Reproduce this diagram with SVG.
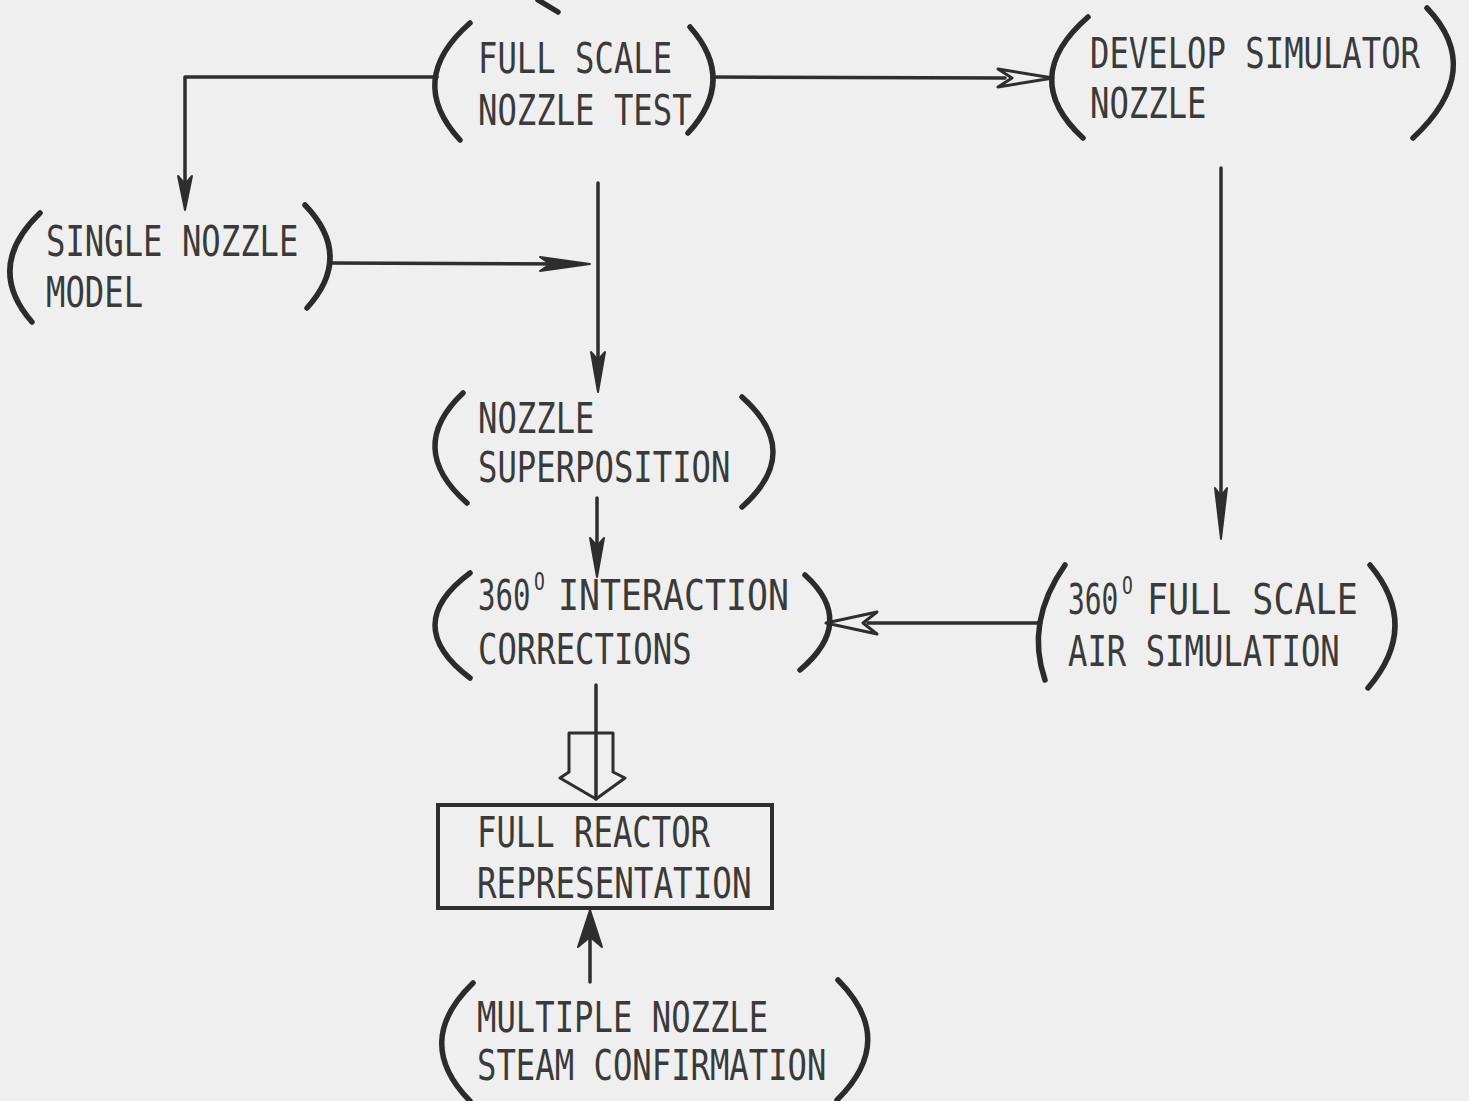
<svg xmlns="http://www.w3.org/2000/svg" width="1469" height="1101" viewBox="0 0 1469 1101">
<style>
.bg{fill:#efefef}
.t{font-family:"DejaVu Sans Mono","Liberation Mono",monospace;font-size:43px;fill:#3a3a3a}
.sup{font-family:"DejaVu Sans Mono","Liberation Mono",monospace;font-size:24px;fill:#3a3a3a}
.p{fill:none;stroke:#2b2b2b;stroke-width:5.5;stroke-linecap:round}
.ln{fill:none;stroke:#2e2e2e;stroke-width:3.5;stroke-linecap:round;stroke-linejoin:round}
.fh{fill:#2e2e2e;stroke:#2e2e2e;stroke-width:2;stroke-linejoin:round}
.oh{fill:#efefef;stroke:#2e2e2e;stroke-width:3;stroke-linejoin:round}
.box{fill:none;stroke:#2e2e2e;stroke-width:4}
</style>
<rect class="bg" x="0" y="0" width="1469" height="1101"/>

<g id="connectors">
  <line class="p" x1="538" y1="0" x2="558" y2="12"/>
  <polyline class="ln" points="437,77 185,77 185,200"/>
  <polygon class="fh" points="185,210 178,176 185,184 192,176"/>
  <line class="ln" x1="713" y1="77" x2="1005" y2="78"/>
  <polygon class="oh" points="1053,78 998,69 1012,78 998,87"/>
  <line class="ln" x1="598" y1="183" x2="598" y2="382"/>
  <polygon class="fh" points="598,392 591,352 598,360 605,352"/>
  <line class="ln" x1="330" y1="263" x2="580" y2="264"/>
  <polygon class="fh" points="590,264 540,257 550,264 540,271"/>
  <line class="ln" x1="597" y1="498" x2="597" y2="565"/>
  <polygon class="fh" points="597,577 590,538 597,546 604,538"/>
  <line class="ln" x1="1221" y1="168" x2="1221" y2="528"/>
  <polygon class="fh" points="1221,539 1215,488 1221,496 1227,488"/>
  <line class="ln" x1="1041" y1="623" x2="868" y2="623"/>
  <polygon class="oh" points="826,623 877,612 863,623 877,634"/>
  <polygon class="oh" points="569,733 613,733 613,772 625,778 596,799 560,778 569,772"/>
  <line class="ln" x1="596" y1="685" x2="596" y2="799"/>
  <line class="ln" x1="590" y1="982" x2="590" y2="925"/>
  <polygon class="fh" points="590,910 602,947 590,937 578,947"/>
</g>

<g id="full-scale-nozzle-test">
  <path class="p" d="M470,23 Q405,80 460,140"/>
  <path class="p" d="M690,27 Q737,80 688,133"/>
  <text class="t" transform="matrix(0.75 0 0 1 478 73)">FULL SCALE</text>
  <text class="t" transform="matrix(0.75 0 0 1 478 125)">NOZZLE TEST</text>
</g>

<g id="develop-simulator-nozzle">
  <path class="p" d="M1088,17 Q1018,78 1083,138"/>
  <path class="p" d="M1427,8 Q1486,70 1413,138"/>
  <text class="t" transform="matrix(0.75 0 0 1 1090 68)">DEVELOP SIMULATOR</text>
  <text class="t" transform="matrix(0.75 0 0 1 1090 118)">NOZZLE</text>
</g>

<g id="single-nozzle-model">
  <path class="p" d="M40,213 Q-16,267 32,322"/>
  <path class="p" d="M305,205 Q354,256 307,308"/>
  <text class="t" transform="matrix(0.75 0 0 1 46 256)">SINGLE NOZZLE</text>
  <text class="t" transform="matrix(0.75 0 0 1 46 307)">MODEL</text>
</g>

<g id="nozzle-superposition">
  <path class="p" d="M463,393 Q405,448 467,503"/>
  <path class="p" d="M742,397 Q804,452 742,507"/>
  <text class="t" transform="matrix(0.75 0 0 1 478 433)">NOZZLE</text>
  <text class="t" transform="matrix(0.75 0 0 1 478 482)">SUPERPOSITION</text>
</g>

<g id="interaction-corrections">
  <path class="p" d="M470,573 Q400,625 470,678"/>
  <path class="p" d="M805,575 Q857,622 800,670"/>
  <text class="t" transform="matrix(0.75 0 0 1 478 610)" textLength="70" lengthAdjust="spacingAndGlyphs">360</text>
  <text class="sup" transform="matrix(0.75 0 0 1 534 590)">O</text>
  <text class="t" transform="matrix(0.75 0 0 1 558 610)" textLength="308" lengthAdjust="spacingAndGlyphs">INTERACTION</text>
  <text class="t" transform="matrix(0.75 0 0 1 478 664)">CORRECTIONS</text>
</g>

<g id="full-scale-air-simulation">
  <path class="p" d="M1065,565 Q1025,622 1045,680"/>
  <path class="p" d="M1370,565 Q1421,626 1368,688"/>
  <text class="t" transform="matrix(0.75 0 0 1 1068 614)" textLength="67" lengthAdjust="spacingAndGlyphs">360</text>
  <text class="sup" transform="matrix(0.75 0 0 1 1122 594)">O</text>
  <text class="t" transform="matrix(0.75 0 0 1 1147 614)" textLength="281" lengthAdjust="spacingAndGlyphs">FULL SCALE</text>
  <text class="t" transform="matrix(0.75 0 0 1 1068 666)">AIR SIMULATION</text>
</g>

<g id="full-reactor-representation">
  <rect class="box" x="438" y="805" width="334" height="103"/>
  <text class="t" transform="matrix(0.75 0 0 1 477 847)">FULL REACTOR</text>
  <text class="t" transform="matrix(0.75 0 0 1 477 898)" textLength="366" lengthAdjust="spacingAndGlyphs">REPRESENTATION</text>
</g>

<g id="multiple-nozzle-steam-confirmation">
  <path class="p" d="M473,983 Q412,1042 470,1101"/>
  <path class="p" d="M838,980 Q898,1040 837,1100"/>
  <text class="t" transform="matrix(0.75 0 0 1 477 1032)">MULTIPLE NOZZLE</text>
  <text class="t" transform="matrix(0.75 0 0 1 477 1080)">STEAM CONFIRMATION</text>
</g>
</svg>
